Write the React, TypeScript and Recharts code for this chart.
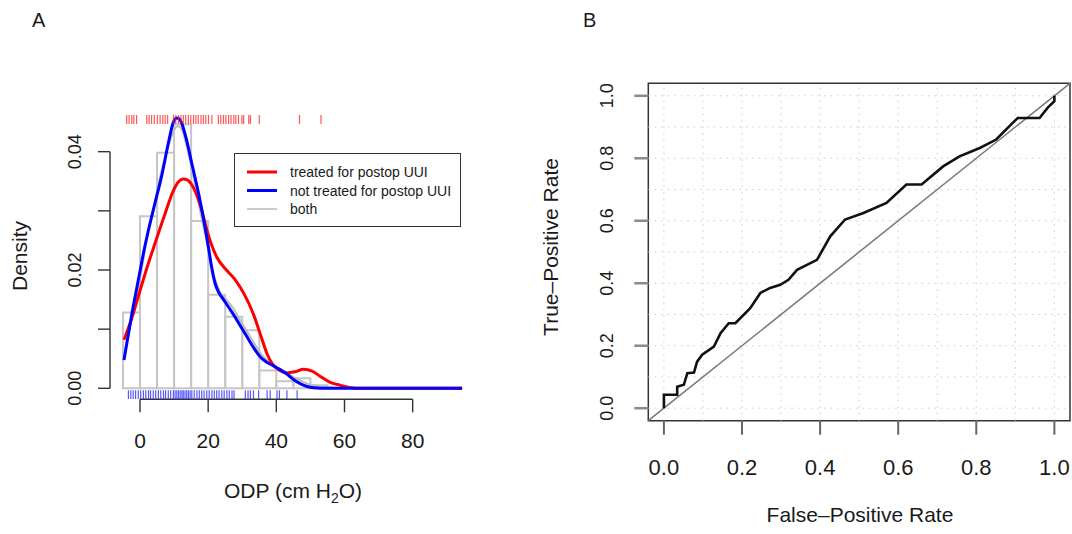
import React from 'react';
import {
  ComposedChart,
  Line,
  Scatter,
  XAxis,
  YAxis,
  ReferenceArea,
  ReferenceLine,
  Legend,
} from 'recharts';

const FONT = '"Liberation Sans", Arial, Helvetica, sans-serif';
const INK = '#1a1a1a';

// ---------- panel A: ODP densities ----------
const A_X_DOMAIN: [number, number] = [-8.8, 96];
const A_Y_DOMAIN: [number, number] = [-0.00186, 0.0462];
const odpTicks = [0, 20, 40, 60, 80];
const densityTicks = [0, 0.01, 0.02, 0.03, 0.04];
const densityLabels: Record<number, string> = { 0: '0.00', 0.02: '0.02', 0.04: '0.04' };

const histStarts = [-5, 0, 5, 10, 15, 20, 25, 30, 35, 40, 45, 50];
const histHeights = [0.0128, 0.0291, 0.0398, 0.0446, 0.0283, 0.0158, 0.0121, 0.0098, 0.003, 0.0012, 0.0017, 0.0005];
const binWidth = 5;

const treatedCurve = [
  [-4.7, 0.0082], [-2.6, 0.0115], [0, 0.0165], [2, 0.0203], [4.4, 0.0245], [7.4, 0.0296],
  [9.8, 0.0334], [11.3, 0.0349], [12.7, 0.0354], [14, 0.0352], [15.2, 0.0344], [17.6, 0.0311],
  [20.1, 0.0258], [22.5, 0.0222], [25.5, 0.0199], [28, 0.0183], [30.5, 0.016], [33.3, 0.0125],
  [35.5, 0.0088], [37.3, 0.0058], [39, 0.004], [41, 0.003], [43.1, 0.0026], [45.5, 0.0028],
  [48, 0.0032], [50.5, 0.0029], [52.9, 0.002], [55.5, 0.0011], [58.8, 0.0005], [62, 0.0001],
  [65, 0], [80, 0], [94.5, 0],
];
const notTreatedCurve = [
  [-4.7, 0.0048], [-3.5, 0.0088], [-2.5, 0.0122], [-1, 0.0168], [0, 0.0198], [1, 0.0228],
  [2.5, 0.0268], [4.4, 0.0313], [6.4, 0.036], [8.3, 0.0414], [9.8, 0.045], [10.8, 0.0457],
  [11.6, 0.0455], [12.3, 0.0447], [13.7, 0.0419], [15.2, 0.038], [17.2, 0.0329], [19.1, 0.0272],
  [20.1, 0.0238], [21, 0.0205], [22, 0.0178], [23, 0.0163], [24.5, 0.015], [26, 0.0137],
  [27.4, 0.0125], [29.5, 0.0105], [31.4, 0.0087], [33.3, 0.0069], [35.3, 0.0053], [37.2, 0.0044],
  [39.2, 0.0038], [41, 0.0032], [43.1, 0.0024], [45, 0.0015], [47, 0.0008], [49, 0.0003],
  [51, 0.0001], [55, 0], [80, 0], [94.5, 0],
];
const bothCurve = [
  [-4.7, 0.0058], [-2, 0.0128], [0, 0.0185], [2, 0.025], [4, 0.0305], [6, 0.036], [8, 0.0403],
  [10, 0.0436], [11, 0.0443], [12, 0.044], [14, 0.0402], [16, 0.0348], [18, 0.029], [20, 0.0236],
  [22, 0.0185], [23.5, 0.0163], [25, 0.0152], [27.5, 0.0134], [30, 0.0109], [32.5, 0.0086],
  [35, 0.0062], [37.5, 0.0046], [40, 0.0036], [42.5, 0.0028], [45, 0.0019], [47.5, 0.0012],
  [50, 0.0006], [55, 0.0002], [60, 0], [94.5, 0],
];

const treatedRug = [
  -3.9, -3.2, -2.4, -1.8, -1.0, 2.0, 2.7, 3.4, 4.2, 5.1, 5.9, 6.7, 7.4, 8.1, 9.8, 10.5, 11.3,
  12.0, 12.7, 13.4, 14.2, 14.9, 15.7, 16.4, 17.1, 17.9, 18.6, 19.3, 20.1, 21.1, 23.0, 23.7, 24.5,
  25.2, 26.0, 26.7, 27.5, 28.1, 28.9, 29.9, 30.4, 31.9, 32.4, 35.0, 46.8, 53.1,
];
const notTreatedRug = [
  -3.4, -2.7, -2.0, -1.3, -0.5, 0.2, 1.0, 1.7, 2.5, 3.1, 3.9, 4.6, 5.4, 6.1, 6.9, 7.5, 8.3, 9.0,
  9.8, 10.3, 10.8, 11.3, 11.8, 12.3, 12.7, 13.2, 13.7, 14.2, 14.7, 15.2, 15.9, 16.7, 17.4, 18.1,
  18.8, 19.6, 20.3, 21.1, 21.8, 22.5, 23.2, 24.0, 24.7, 25.5, 26.2, 27.0, 27.6, 30.9, 31.7, 32.4,
  33.3, 34.8, 37.3, 38.2, 40.2, 40.9, 43.1, 46.1,
];

const legendItems = [
  { label: 'treated for postop UUI', color: '#ff0000', width: 3 },
  { label: 'not treated for postop UUI', color: '#0000ff', width: 3 },
  { label: 'both', color: '#bdbdbd', width: 1.5 },
];

// ---------- panel B: ROC ----------
const B_DOMAIN: [number, number] = [-0.04, 1.04];
const rateTicks = [0, 0.2, 0.4, 0.6, 0.8, 1];
const gridValues = [0, 0.1, 0.2, 0.3, 0.4, 0.5, 0.6, 0.7, 0.8, 0.9, 1];
const fpr = [
  0, 0, 0.034, 0.034, 0.051, 0.06, 0.077, 0.085, 0.098, 0.128, 0.145, 0.166, 0.183, 0.221, 0.247,
  0.272, 0.298, 0.319, 0.341, 0.392, 0.426, 0.464, 0.511, 0.57, 0.621, 0.66, 0.715, 0.757, 0.809,
  0.851, 0.885, 0.906, 0.962, 0.983, 1, 1,
];
const tpr = [
  0, 0.043, 0.043, 0.069, 0.075, 0.112, 0.114, 0.149, 0.171, 0.197, 0.24, 0.272, 0.272, 0.32, 0.369,
  0.385, 0.395, 0.411, 0.443, 0.475, 0.55, 0.604, 0.625, 0.657, 0.716, 0.716, 0.774, 0.806, 0.833,
  0.86, 0.903, 0.929, 0.929, 0.962, 0.983, 1,
];

const toPoints = (pairs: number[][]) => pairs.map(([x, y]) => ({ x, y }));
const rocData = fpr.map((x, i) => ({ x, y: tpr[i] }));

const XTick = (props: any) => {
  const { x, y, payload, fs } = props;
  return (
    <text x={x} y={y} dy="0.71em" textAnchor="middle" fontSize={fs} fontFamily={FONT} fill={INK}>
      {props.fmt(payload.value)}
    </text>
  );
};

const YTickRotated = (props: any) => {
  const { x, y, payload, fs } = props;
  const label = props.fmt(payload.value);
  if (!label) return null;
  return (
    <text
      x={x}
      y={y}
      transform={`rotate(-90 ${x} ${y})`}
      textAnchor="middle"
      fontSize={fs}
      fontFamily={FONT}
      fill={INK}
    >
      {label}
    </text>
  );
};

const rugShape = (color: string, dir: number) => (p: any) => (
  <line x1={p.cx} x2={p.cx} y1={p.cy} y2={p.cy + dir * 9} stroke={color} strokeWidth={1.2} strokeOpacity={0.75} />
);

const LegendBox = () => (
  <div style={{ border: '1.5px solid #333', width: 225, height: 72, background: '#fff' }}>
    <svg width={225} height={72}>
      {legendItems.map((it, i) => (
        <g key={it.label}>
          <line x1={12} x2={42} y1={18 + i * 18.5} y2={18 + i * 18.5} stroke={it.color} strokeWidth={it.width} />
          <text x={55} y={18 + i * 18.5 + 5} fontSize={14} fontFamily={FONT} fill={INK}>
            {it.label}
          </text>
        </g>
      ))}
    </svg>
  </div>
);

function PanelA() {
  return (
    <ComposedChart width={540} height={534} margin={{ top: 115, right: 72.8, bottom: 0, left: 0 }}>
      <XAxis
        type="number"
        dataKey="x"
        domain={A_X_DOMAIN}
        allowDataOverflow
        ticks={odpTicks}
        height={134.7}
        axisLine={false}
        tickSize={13}
        tickMargin={21}
        tickLine={{ stroke: '#333', strokeWidth: 1.4 }}
        tick={(p: any) => <XTick {...p} fs={21} fmt={(v: number) => String(v)} />}
        label={() => (
          <text x={293} y={498} textAnchor="middle" fontSize={21} fontFamily={FONT} fill={INK}>
            <tspan>ODP (cm H</tspan>
            <tspan fontSize={14} dy={5}>2</tspan>
            <tspan dy={-5}>O)</tspan>
          </text>
        )}
      />
      <YAxis
        type="number"
        dataKey="y"
        domain={A_Y_DOMAIN}
        allowDataOverflow
        ticks={densityTicks}
        width={110}
        axisLine={false}
        tickSize={12}
        tickMargin={17}
        tickLine={{ stroke: '#333', strokeWidth: 1.4 }}
        tick={(p: any) => <YTickRotated {...p} fs={18} fmt={(v: number) => densityLabels[v] || ''} />}
        label={() => (
          <text
            x={26.5}
            y={256}
            transform="rotate(-90 26.5 256)"
            textAnchor="middle"
            fontSize={21}
            fontFamily={FONT}
            fill={INK}
          >
            Density
          </text>
        )}
      />
      <ReferenceLine
        segment={[{ x: odpTicks[0], y: A_Y_DOMAIN[0] }, { x: odpTicks[odpTicks.length - 1], y: A_Y_DOMAIN[0] }]}
        stroke="#333"
        strokeWidth={1.4}
        ifOverflow="visible"
      />
      <ReferenceLine
        segment={[{ x: A_X_DOMAIN[0], y: densityTicks[0] }, { x: A_X_DOMAIN[0], y: densityTicks[densityTicks.length - 1] }]}
        stroke="#333"
        strokeWidth={1.4}
        ifOverflow="visible"
      />
      {histStarts.map((s, i) => (
        <ReferenceArea
          key={s}
          x1={s}
          x2={s + binWidth}
          y1={0}
          y2={histHeights[i]}
          fill="#fff"
          fillOpacity={0}
          stroke="#c6c6c6"
          strokeWidth={2}
          strokeOpacity={1}
          ifOverflow="visible"
        />
      ))}
      <Line data={toPoints(bothCurve)} dataKey="y" type="monotone" stroke="#bdbdbd" strokeWidth={2} dot={false} isAnimationActive={false} />
      <Line data={toPoints(treatedCurve)} dataKey="y" type="monotone" stroke="#ff0000" strokeWidth={3} dot={false} isAnimationActive={false} />
      <Line data={toPoints(notTreatedCurve)} dataKey="y" type="monotone" stroke="#0000ff" strokeWidth={3} dot={false} isAnimationActive={false} />
      <Scatter
        data={treatedRug.map((x) => ({ x, y: A_Y_DOMAIN[1] }))}
        shape={rugShape('#ff2020', 1)}
        isAnimationActive={false}
      />
      <Scatter
        data={notTreatedRug.map((x) => ({ x, y: A_Y_DOMAIN[0] }))}
        shape={rugShape('#2020ff', -1)}
        isAnimationActive={false}
      />
      <Legend
        layout="vertical"
        align="center"
        verticalAlign="middle"
        content={() => <LegendBox />}
        wrapperStyle={{ left: 234, top: 153, width: 228, height: 75 }}
      />
    </ComposedChart>
  );
}

function PanelB() {
  return (
    <ComposedChart width={532} height={534} margin={{ top: 83.3, right: 2, bottom: 0, left: 0 }}>
      <XAxis
        type="number"
        dataKey="x"
        domain={B_DOMAIN}
        allowDataOverflow
        ticks={rateTicks}
        height={113.3}
        axisLine={false}
        tickSize={14}
        tickMargin={25}
        tickLine={{ stroke: '#666', strokeWidth: 2 }}
        tick={(p: any) => <XTick {...p} fs={22} fmt={(v: number) => v.toFixed(1)} />}
        label={() => (
          <text x={320} y={521.7} textAnchor="middle" fontSize={21} fontFamily={FONT} fill={INK}>
            False–Positive Rate
          </text>
        )}
      />
      <YAxis
        type="number"
        dataKey="y"
        domain={B_DOMAIN}
        allowDataOverflow
        ticks={rateTicks}
        width={108.3}
        axisLine={false}
        tickSize={14}
        tickMargin={21}
        tickLine={{ stroke: '#8a8a8a', strokeWidth: 2.5 }}
        tick={(p: any) => <YTickRotated {...p} fs={18} fmt={(v: number) => v.toFixed(1)} />}
        label={() => (
          <text
            x={18.3}
            y={247}
            transform="rotate(-90 18.3 247)"
            textAnchor="middle"
            fontSize={21}
            fontFamily={FONT}
            fill={INK}
          >
            True–Positive Rate
          </text>
        )}
      />
      {gridValues.map((v) => (
        <ReferenceLine key={'gx' + v} x={v} stroke="#cccccc" strokeDasharray="1.5 5" strokeWidth={1} ifOverflow="visible" />
      ))}
      {gridValues.map((v) => (
        <ReferenceLine key={'gy' + v} y={v} stroke="#cccccc" strokeDasharray="1.5 5" strokeWidth={1} ifOverflow="visible" />
      ))}
      <ReferenceLine
        segment={[{ x: B_DOMAIN[0], y: B_DOMAIN[0] }, { x: B_DOMAIN[1], y: B_DOMAIN[1] }]}
        stroke="#777"
        strokeWidth={1.5}
        ifOverflow="visible"
      />
      <ReferenceArea
        x1={B_DOMAIN[0]}
        x2={B_DOMAIN[1]}
        y1={B_DOMAIN[0]}
        y2={B_DOMAIN[1]}
        fill="none"
        fillOpacity={0}
        stroke="#333"
        strokeWidth={1.5}
        strokeOpacity={1}
        ifOverflow="visible"
      />
      <Line data={rocData} dataKey="y" type="linear" stroke="#111" strokeWidth={2.6} dot={false} isAnimationActive={false} />
    </ComposedChart>
  );
}

export default function App() {
  return (
    <div style={{ position: 'absolute', left: 0, top: 0, width: 1072, height: 534, background: '#fff', fontFamily: FONT }}>
      <div style={{ position: 'absolute', left: 0, top: 0 }}>
        <PanelA />
      </div>
      <div style={{ position: 'absolute', left: 540, top: 0 }}>
        <PanelB />
      </div>
      <div style={{ position: 'absolute', left: 32, top: 9, fontSize: 20, color: INK }}>A</div>
      <div style={{ position: 'absolute', left: 583, top: 9, fontSize: 20, color: INK }}>B</div>
    </div>
  );
}
